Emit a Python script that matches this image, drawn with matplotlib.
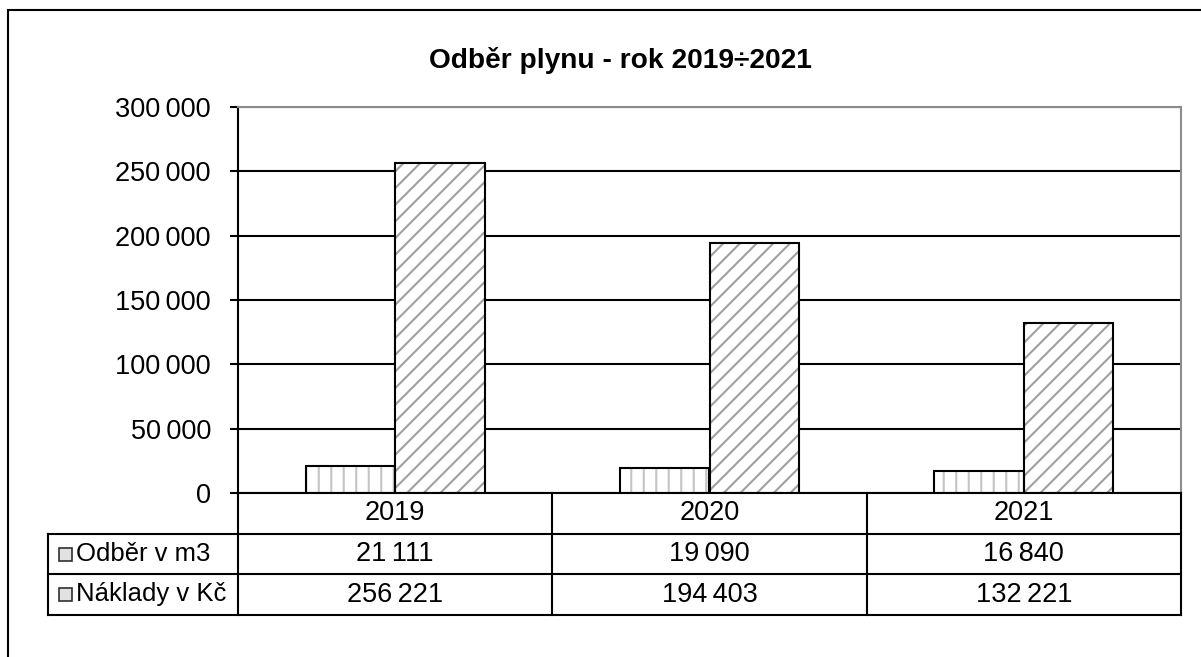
import numpy as np
import matplotlib.pyplot as plt
from matplotlib.patches import Rectangle
from matplotlib.lines import Line2D
import matplotlib.transforms as mtransforms
from matplotlib.ticker import FuncFormatter

years = ['2019', '2020', '2021']
odber = [21111, 19090, 16840]
naklady = [256221, 194403, 132221]
series_names = ['Odběr v m3', 'Náklady v Kč']
title = 'Odběr plynu - rok 2019÷2021'

W, H, DPI = 1201, 657, 150
plt.rcParams['font.family'] = ['Liberation Sans', 'DejaVu Sans']
plt.rcParams['hatch.linewidth'] = 1.0
FS = 13


def fx(px):
    return px / W


def fy(py):
    return 1 - py / H


def fmt(v, pos=None):
    return f'{int(v):,}'.replace(',', '\u2009')


fig = plt.figure(figsize=(W / DPI, H / DPI), dpi=DPI)

# outer chart frame (cut by the picture edge on the right and bottom)
fig.patches.append(Rectangle((fx(8), fy(680)), fx(1230) - fx(8), fy(10) - fy(680),
                             transform=fig.transFigure, fill=False,
                             edgecolor='black', linewidth=1.0))

ax = fig.add_axes([fx(238), fy(493), fx(1181) - fx(238), fy(107) - fy(493)])
x = np.arange(len(years))
bw = 0.285

ax.bar(x - bw / 2, odber, bw, color='white', edgecolor='#c4c4c4', hatch='||', linewidth=0, zorder=2)
ax.bar(x - bw / 2, odber, bw, fill=False, edgecolor='black', linewidth=1.0, zorder=3)
ax.bar(x + bw / 2, naklady, bw, color='white', edgecolor='#a0a0a0', hatch='///', linewidth=0, zorder=2)
ax.bar(x + bw / 2, naklady, bw, fill=False, edgecolor='black', linewidth=1.0, zorder=3)

ax.set_xlim(-0.5, 2.5)
ax.set_ylim(0, 300000)
ax.set_yticks(np.arange(0, 300001, 50000))
ax.yaxis.set_major_formatter(FuncFormatter(fmt))
ax.set_xticks([])
ax.tick_params(axis='y', length=4, width=1.0, pad=9, labelsize=FS, direction='out')
ax.yaxis.grid(True, color='black', linewidth=1.0)
ax.set_axisbelow(True)
ax.spines['top'].set_color('#8c8c8c')
ax.spines['right'].set_color('#8c8c8c')
ax.spines['left'].set_color('black')
ax.spines['bottom'].set_color('black')
for s in ax.spines.values():
    s.set_linewidth(1.0)

fig.text(fx(620), fy(60), title, ha='center', va='center', fontsize=13.5, fontweight='bold')

# data table under the axis
rows = [493, 534, 574, 615]
trans = mtransforms.blended_transform_factory(ax.transData, fig.transFigure)
for b in np.arange(len(years) + 1) - 0.5:
    fig.add_artist(Line2D([b, b], [fy(rows[0]), fy(rows[-1])], transform=trans,
                          color='black', linewidth=1.0))
for r in rows[1:]:
    fig.add_artist(Line2D([fx(48), fx(1181)], [fy(r), fy(r)], transform=fig.transFigure,
                          color='black', linewidth=1.0))
fig.add_artist(Line2D([fx(48), fx(48)], [fy(rows[1]), fy(rows[-1])], transform=fig.transFigure,
                      color='black', linewidth=1.0))

for i, yr in enumerate(years):
    fig.text(x[i], fy((rows[0] + rows[1]) / 2), yr, transform=trans, ha='center', va='center', fontsize=FS)
    fig.text(x[i], fy((rows[1] + rows[2]) / 2), fmt(odber[i]), transform=trans, ha='center', va='center', fontsize=FS)
    fig.text(x[i], fy((rows[2] + rows[3]) / 2), fmt(naklady[i]), transform=trans, ha='center', va='center', fontsize=FS)

for k, name in enumerate(series_names):
    yc = (rows[k + 1] + rows[k + 2]) / 2
    fig.patches.append(Rectangle((fx(59), fy(yc + 6.5)), fx(13), fy(0) - fy(13), transform=fig.transFigure,
                                 facecolor='#e2e2e2', edgecolor='#303030', linewidth=0.8))
    fig.text(fx(76), fy(yc), name, ha='left', va='center', fontsize=12.3)

fig.savefig('out.png', dpi=DPI)
